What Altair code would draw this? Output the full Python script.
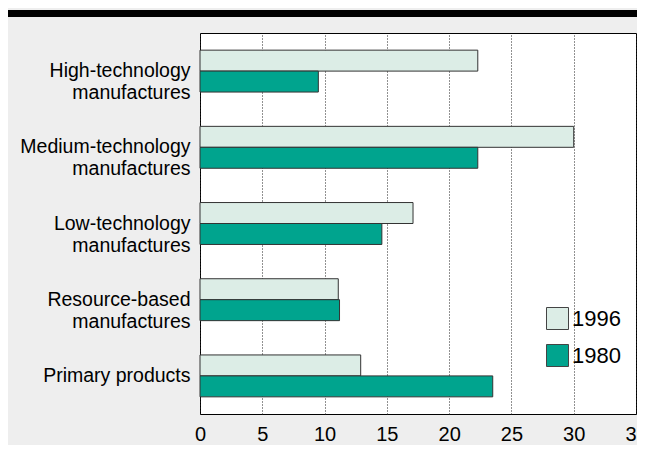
import altair as alt
import pandas as pd

categories = ["High-technology|manufactures", "Medium-technology|manufactures",
              "Low-technology|manufactures", "Resource-based|manufactures",
              "Primary products"]
years = ["1996", "1980"]
v1996 = [22.3, 30.0, 17.1, 11.1, 12.9]
v1980 = [9.5, 22.3, 14.6, 11.2, 23.5]
x_ticks = [0, 5, 10, 15, 20, 25, 30, 35]

rows = []
for c, a, b in zip(categories, v1996, v1980):
    rows.append({"category": c, "year": "1996", "value": a})
    rows.append({"category": c, "year": "1980", "value": b})
df = pd.DataFrame(rows)

FONT = "Liberation Sans"

bars = alt.Chart(df).mark_bar(stroke="#333333", strokeWidth=1).encode(
    x=alt.X("value:Q", scale=alt.Scale(domain=[0, 35], nice=False, zero=True),
            axis=alt.Axis(values=x_ticks, title=None, grid=True, gridDash=[1, 2],
                          gridColor="#222222", gridWidth=1, ticks=False, domain=False,
                          labelFontSize=20, labelFont=FONT, labelColor="black",
                          labelPadding=10, labelFlush=False)),
    y=alt.Y("category:N", sort=categories,
            scale=alt.Scale(paddingInner=0.45, paddingOuter=0.225),
            axis=alt.Axis(title=None, labelExpr="split(datum.label, '|')",
                          labelFontSize=19.5, labelLineHeight=22, labelPadding=10,
                          labelFont=FONT, labelColor="black", ticks=False,
                          domain=False, labelLimit=400)),
    yOffset=alt.YOffset("year:N", sort=years, scale=alt.Scale(paddingInner=0, paddingOuter=0)),
    color=alt.Color("year:N", sort=years,
                    scale=alt.Scale(domain=years, range=["#dcede6", "#00a48e"]),
                    legend=alt.Legend(orient="none", legendX=346, legendY=274, title=None,
                                      symbolType="square", symbolSize=484,
                                      symbolStrokeColor="#444444", symbolStrokeWidth=1,
                                      symbolOpacity=1,
                                      labelFontSize=22, labelFont=FONT, labelColor="black",
                                      labelOffset=3, rowPadding=10, padding=0)),
)

topbar = alt.Chart(alt.Data(values=[{"a": 1}])).mark_rule(
    color="black", strokeWidth=7
).encode(x=alt.value(-192), x2=alt.value(446), y=alt.value(-19.5))

chart = alt.layer(bars, topbar).properties(
    width=436, height=381,
    autosize=alt.AutoSizeParams(type="none"),
    padding={"left": 192, "top": 25, "right": 1, "bottom": 31},
    background="#eeeeee",
).configure_view(fill="white", stroke="black", strokeWidth=1)

chart.save("out.html", embed_options={"renderer": "svg", "actions": False})
